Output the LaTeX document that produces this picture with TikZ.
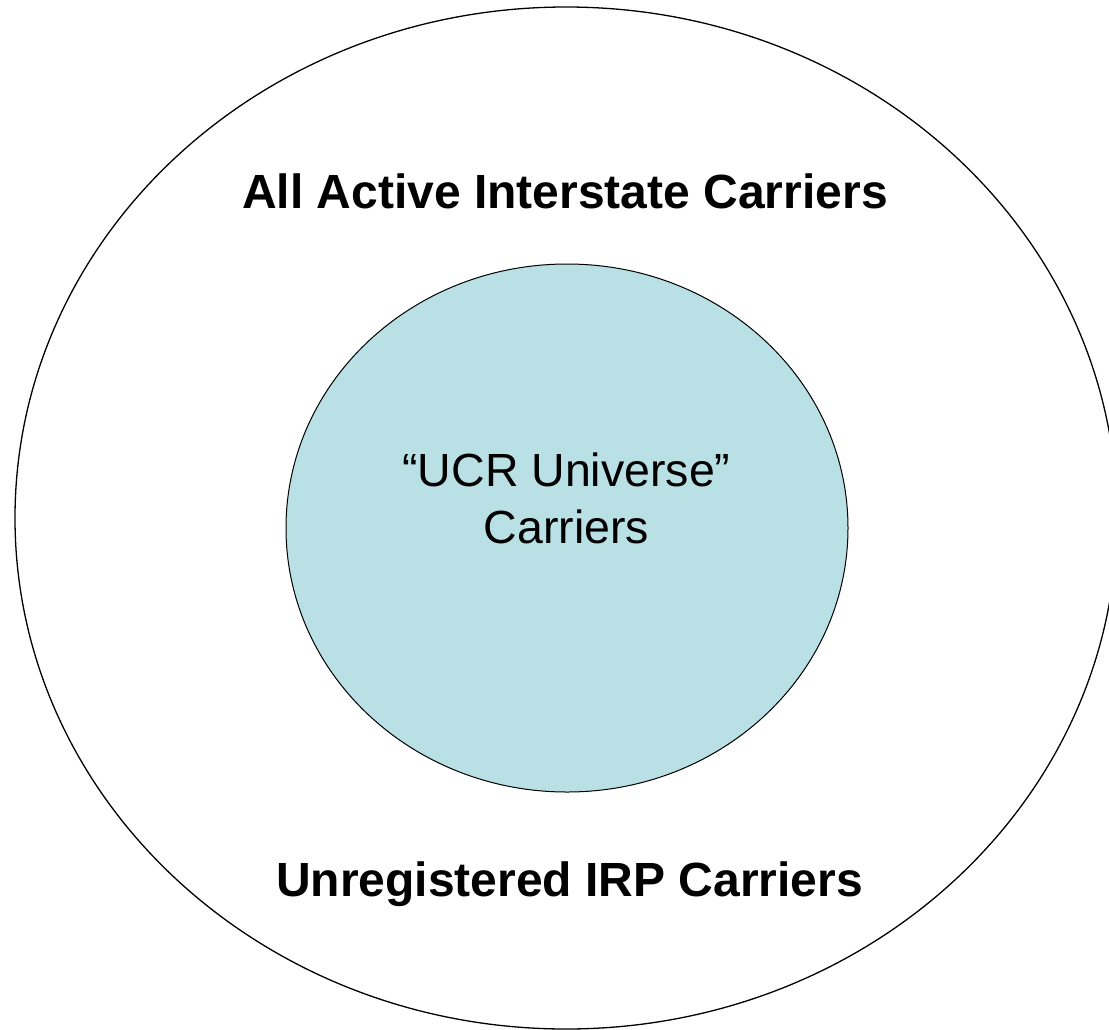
\documentclass[tikz,border=0pt]{standalone}
\usepackage{fontspec}
\setmainfont{Liberation Sans}
\usetikzlibrary{shapes.geometric}
\definecolor{ucrfill}{RGB}{185,224,228}
\tikzset{
  setline/.style={draw=black, line width=1.3pt},
  boldlabel/.style={font=\fontsize{48}{56}\selectfont\bfseries, inner sep=0pt},
  innerlabel/.style={font=\fontsize{46.5}{56.4}\selectfont, align=center, inner sep=0pt}
}
\begin{document}
\begin{tikzpicture}[x=1pt,y=-1pt]
\useasboundingbox (0,0) rectangle (1109,1029);
\clip (0,0) rectangle (1109,1029);
\fill[white] (0,0) rectangle (1109,1029);
\node[setline, ellipse, minimum width=1102pt, minimum height=1022pt, inner sep=0pt] (outer) at (566,518) {};
\node[setline, fill=ucrfill, line width=1pt, ellipse, minimum width=562pt, minimum height=528pt, inner sep=0pt] (inner) at (567,528) {};
\node[boldlabel, anchor=base] (all) at (565,208) {All Active Interstate Carriers};
\node[boldlabel, anchor=base] (unreg) at (569.5,896) {Unregistered IRP Carriers};
\node[innerlabel, anchor=base] (ucr) at (566.5,543.3) {“UCR Universe”\\Carriers};
\end{tikzpicture}
\end{document}
